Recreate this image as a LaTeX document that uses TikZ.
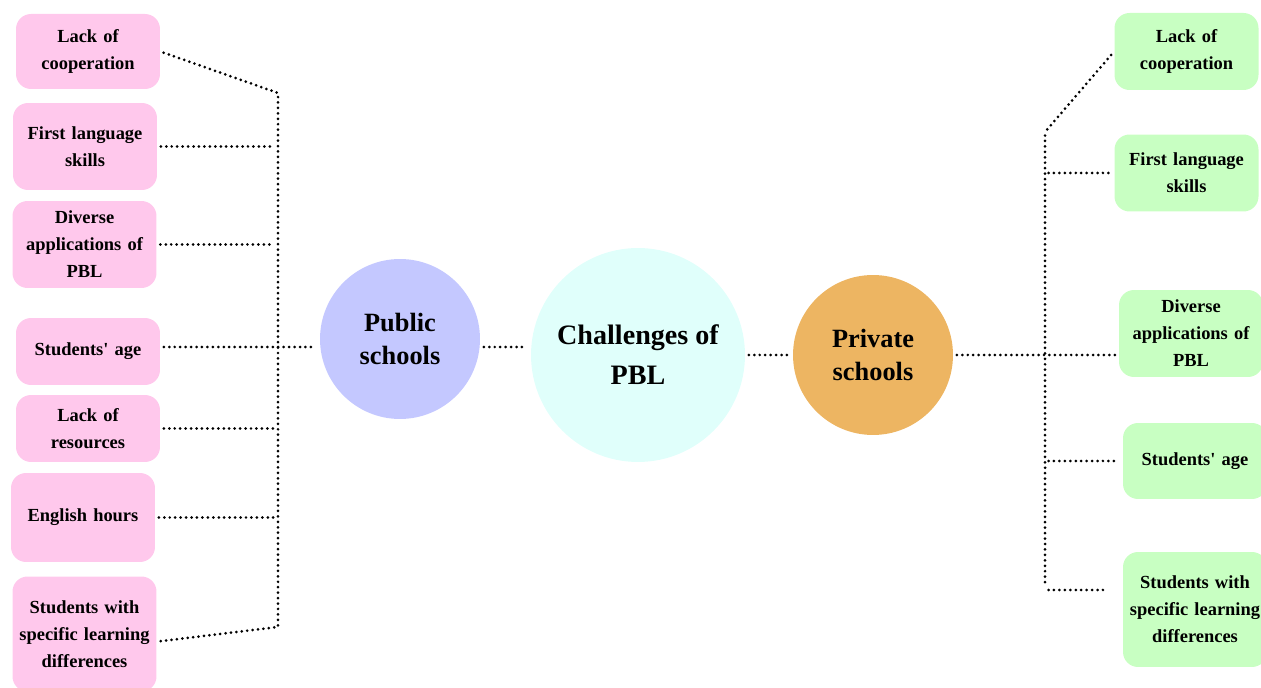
\documentclass[tikz,border=0pt]{standalone}
\usepackage{fontspec}
\setmainfont{Liberation Serif}
\usepackage{tikz}
\usepackage{xcolor}
\definecolor{pinkbox}{HTML}{FFC8EC}
\definecolor{greenbox}{HTML}{C8FFC2}
\definecolor{pubcol}{HTML}{C4C8FF}
\definecolor{pblcol}{HTML}{E0FFFB}
\definecolor{pricol}{HTML}{EDB562}

\begin{document}
\begin{tikzpicture}[x=0.02cm,y=-0.02cm]
  \tikzset{item/.style = {shape=rectangle,rounded corners=0.3cm,minimum width=2.88cm,text width=2.7cm,align=center,inner sep=1pt,font=\fontsize{10.5}{15.3}\selectfont\bfseries}}
  \tikzset{hub/.style = {shape=circle,inner sep=0pt,align=center,font=\fontsize{15}{19.3}\selectfont\bfseries}}
  \tikzset{link/.style = {line width=1.7pt,line cap=round,dash pattern=on 0pt off 3.1pt,shorten <=2pt,shorten >=2pt}}

  \useasboundingbox (0,0) rectangle (1261,688);

	% public schools
	\node[item,fill=pinkbox,minimum height=1.5cm] (l1) at (88,51.5) {Lack of\\cooperation};
	\node[item,fill=pinkbox,minimum height=1.74cm] (l2) at (85,146.5) {First language\\skills};
	\node[item,fill=pinkbox,minimum height=1.74cm] (l3) at (84.5,244.5) {Diverse\\applications of\\PBL};
	\node[item,fill=pinkbox,minimum height=1.34cm] (l4) at (88,351.5) {Students\textquotesingle{} age};
	\node[item,fill=pinkbox,minimum height=1.34cm] (l5) at (88,428.5) {Lack of\\resources};
	\node[item,fill=pinkbox,minimum height=1.78cm] (l6) at (83,517.5) {English hours};
	\node[item,fill=pinkbox,minimum height=2.3cm] (l7) at (84.5,634) {Students with\\specific learning\\differences};

	% circles
	\node[hub,fill=pubcol,minimum size=3.2cm] (pub) at (400,339) {Public\\schools};
	\node[hub,fill=pblcol,minimum size=4.28cm,font=\fontsize{16}{22.7}\selectfont\bfseries] (pbl) at (638,355) {Challenges of\\PBL};
	\node[hub,fill=pricol,minimum size=3.2cm] (pri) at (873,355) {Private\\schools};

	% private schools
	\node[item,fill=greenbox,minimum height=1.54cm] (r1) at (1186.5,51.5) {Lack of\\cooperation};
	\node[item,fill=greenbox,minimum height=1.54cm] (r2) at (1186.5,173) {First language\\skills};
	\node[item,fill=greenbox,minimum height=1.74cm] (r3) at (1191,333.5) {Diverse\\applications of\\PBL};
	\node[item,fill=greenbox,minimum height=1.52cm] (r4) at (1195,461) {Students\textquotesingle{} age};
	\node[item,fill=greenbox,minimum height=2.3cm] (r5) at (1195,609.5) {Students with\\specific learning\\differences};

	\coordinate (lt) at (278,93);
	\coordinate (lb) at (278,627);
	\coordinate (lh) at (278,347);
	\coordinate (rt) at (1045,132);
	\coordinate (rb) at (1045,590);

    \draw[link] (l1.east) -- (lt) -- (lb) -- (l7.-6);
    \foreach \n in {l2,l3,l5,l6}
    \draw[link] (\n.east) -- (\n.east -| lt);
    \draw[link] (l4.east |- lh) -- (lh) -- (pub.west |- lh);

    \draw[link] (pub.east |- lh) -- (pbl.west |- lh);
    \draw[link] (pbl.east) -- (pri.west);

    \draw[link] (rt) -- (rb);
    \draw[link] (rt) -- (r1.west);
    \draw[link] (pri.east) -- (r3.west |- pri.east);
    \foreach \n in {r2,r4}
    \draw[link] (\n.west -| rt) -- (\n.west);
    \draw[link,shorten >=9pt] (rb) -- (r5.west |- rb);

\end{tikzpicture}
\end{document}
